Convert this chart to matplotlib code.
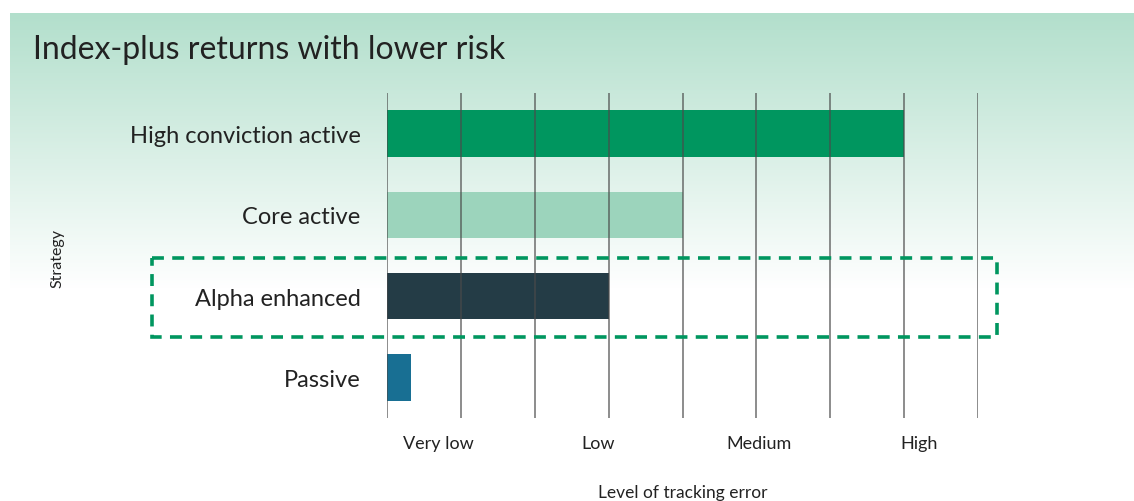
import numpy as np
import matplotlib
matplotlib.use('Agg')
import matplotlib.pyplot as plt
import matplotlib.transforms as mtransforms
from matplotlib.patches import Rectangle

strategies = ['High conviction active', 'Core active', 'Alpha enhanced', 'Passive']
tracking_error = [7.0, 4.0, 3.0, 0.33]
bar_colors = ['#00965f', '#9cd4bc', '#243c46', '#186f93']
level_labels = ['Very low', 'Low', 'Medium', 'High']
level_positions = [0.69, 2.86, 5.03, 7.2]
highlight = 'Alpha enhanced'

plt.rcParams['font.family'] = ['Lato', 'DejaVu Sans']
text_color = '#222222'

fig = plt.figure(figsize=(11.34, 5.02), dpi=100)

# mint gradient panel behind everything
bg = fig.add_axes([10 / 1134, 0, 1 - 10 / 1134, 1 - 14 / 502], zorder=-10)
rows = 488
t = np.clip(np.arange(rows) / 275.0, 0, 1)[:, None]
top = np.array([0.70, 0.875, 0.80])
grad = top + (1 - top) * t
img = np.repeat(grad[:, None, :], 2, axis=1)
bg.imshow(img, aspect='auto', extent=[0, 1, 0, 1])
bg.axis('off')

ax = fig.add_axes([387 / 1134, 83 / 502, 591 / 1134, 325 / 502])
ax.patch.set_alpha(0)
y = np.arange(len(strategies))
ax.barh(y, tracking_error, height=0.57, color=bar_colors, zorder=2)
ax.set_xlim(0, 8)
ax.set_ylim(len(strategies) - 0.5, -0.5)

ax.set_xticks(level_positions)
ax.set_xticklabels(level_labels, fontsize=13, color=text_color)
ax.set_xticks(np.arange(0, 9), minor=True)
ax.grid(which='minor', axis='x', color='#4a4a4a', linewidth=1.1, alpha=0.8, zorder=3)
ax.grid(which='major', visible=False)
ax.set_axisbelow(False)
ax.tick_params(axis='x', which='both', length=0, pad=12)
ax.set_yticks(y)
ax.set_yticklabels(strategies, fontsize=17, color=text_color)
ax.tick_params(axis='y', length=0, pad=19)
for s in ax.spines.values():
    s.set_visible(False)

ax.set_xlabel('Level of tracking error', fontsize=12.5, color=text_color, labelpad=24)

# dashed box around the highlighted strategy
hi = strategies.index(highlight)
trans = mtransforms.blended_transform_factory(ax.transAxes, ax.transData)
box = Rectangle((-0.398, hi - 0.47), 1.43, 0.97, transform=trans, fill=False,
                edgecolor='#00965f', linewidth=2.6, linestyle=(0, (3.3, 2.3)),
                clip_on=False, zorder=4)
ax.add_patch(box)

fig.text(33 / 1134, 1 - 50 / 502, 'Index-plus returns with lower risk', fontsize=23,
         color=text_color, va='center', ha='left')
fig.text(57 / 1134, 1 - 258 / 502, 'Strategy', fontsize=11.5, color=text_color,
         rotation=90, va='center', ha='center')

fig.savefig('out.png', dpi=100)
